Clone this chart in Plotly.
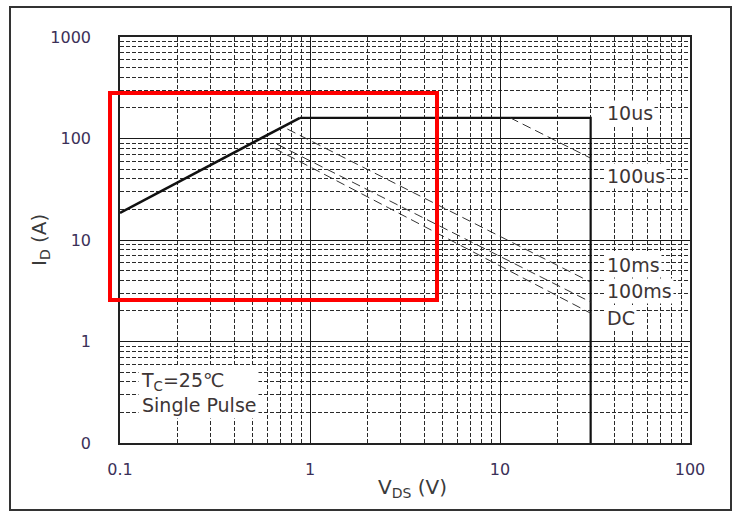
import math
import plotly.graph_objects as go

# Safe operating area: drain current vs drain-source voltage (log-log)
x_ticks = [0.1, 1, 10, 100]
x_tick_text = ["0.1", "1", "10", "100"]
y_ticks = [0.1, 1, 10, 100, 1000]
y_tick_text = ["0", "1", "10", "100", "1000"]

# RDS(on) limit line
rds_v = [0.1, 0.885]
rds_i = [18.5, 160]

# package current limit (10us) and BVDSS limit
limit_v = [0.885, 30, 30]
limit_i = [160, 160, 0.1]

# pulse-width limited boundaries
us100_v = [11.3, 30]
us100_i = [160, 64]
ms10_v = [0.76, 30]
ms10_i = [124, 3.85]
ms100_v = [0.67, 30]
ms100_i = [88, 2.45]
dc_v = [0.65, 30]
dc_i = [80, 1.9]

curve_labels = ["10us", "100us", "10ms", "100ms", "DC"]
curve_label_i = [178, 42.7, 5.7, 3.15, 1.7]
label_v = 35.5

# highlighted region (V, A)
box_v = [0.0886, 4.66]
box_i = [2.56, 280]

W, H = 736, 512
ML, MR, MT, MB = 120, 46, 37, 69
XR = [-1, 2]
YR = [-1, 3]

FONT = "DejaVu Sans, Liberation Sans, Arial"


def xp(v):
    return (math.log10(v) - XR[0]) / (XR[1] - XR[0])


def yp(v):
    return (math.log10(v) - YR[0]) / (YR[1] - YR[0])


def px_x(p):
    return (p - ML) / (W - ML - MR)


def px_y(p):
    return (H - MB - p) / (H - MT - MB)


fig = go.Figure()

solid = dict(color="#111111", width=2.2)
dashed = dict(color="#333333", width=1, dash="9px,5px")

fig.add_trace(go.Scatter(x=rds_v, y=rds_i, mode="lines", line=dict(color="#111111", width=2.6)))
fig.add_trace(go.Scatter(x=limit_v, y=limit_i, mode="lines", line=solid))
for vv, ii in [(us100_v, us100_i), (ms10_v, ms10_i), (ms100_v, ms100_i), (dc_v, dc_i)]:
    fig.add_trace(go.Scatter(x=vv, y=ii, mode="lines", line=dashed))

label_font = dict(family=FONT, size=19, color="#3d3535")
annotations = []
for txt, iv in zip(curve_labels, curve_label_i):
    annotations.append(dict(
        x=math.log10(label_v), y=math.log10(iv), xref="x", yref="y",
        text=txt, showarrow=False, xanchor="left", yanchor="middle",
        font=label_font, bgcolor="white", borderpad=1,
    ))

annotations.append(dict(
    x=math.log10(0.124), y=math.log10(0.318), xref="x", yref="y",
    text="T<sub>C</sub>=25℃<br>Single Pulse", showarrow=False,
    xanchor="left", yanchor="middle", align="left",
    font=dict(family=FONT, size=19, color="#3d3535"), bgcolor="white", borderpad=2,
))

title_font = dict(family=FONT, size=20, color="#3a3a3a")
annotations.append(dict(
    x=px_x(412), y=px_y(488), xref="paper", yref="paper",
    text="V<sub>DS</sub> (V)", showarrow=False, xanchor="center", yanchor="middle",
    font=title_font,
))
annotations.append(dict(
    x=px_x(40), y=px_y(240), xref="paper", yref="paper",
    text="I<sub>D</sub> (A)", showarrow=False, xanchor="center", yanchor="middle",
    textangle=-90, font=title_font,
))

tick_font = dict(family=FONT, size=16, color="#3b3058")
axis_common = dict(
    type="log",
    showline=True, linecolor="#222222", linewidth=1.5, mirror=True,
    showgrid=True, gridcolor="#1a1a1a", gridwidth=1,
    ticks="", tickfont=tick_font, zeroline=False,
    minor=dict(showgrid=True, gridcolor="#2a2a2a", gridwidth=1,
               griddash="4px,2px", dtick="D1"),
)

fig.update_layout(
    width=W, height=H,
    margin=dict(l=ML, r=MR, t=MT, b=MB),
    paper_bgcolor="white", plot_bgcolor="white",
    showlegend=False,
    xaxis=dict(range=XR, tickvals=x_ticks, ticktext=x_tick_text,
               ticklabelstandoff=11, **axis_common),
    yaxis=dict(range=YR, tickvals=y_ticks, ticktext=y_tick_text,
               ticklabelstandoff=24, **axis_common),
    annotations=annotations,
    shapes=[
        dict(type="rect", xref="paper", yref="paper",
             x0=xp(box_v[0]), x1=xp(box_v[1]), y0=yp(box_i[0]), y1=yp(box_i[1]),
             line=dict(color="#ff0000", width=4), layer="above"),
        dict(type="rect", xref="paper", yref="paper",
             x0=px_x(10), x1=px_x(731), y0=px_y(510), y1=px_y(7),
             line=dict(color="#333333", width=2), layer="above"),
    ],
)

fig.write_html("out.html")
